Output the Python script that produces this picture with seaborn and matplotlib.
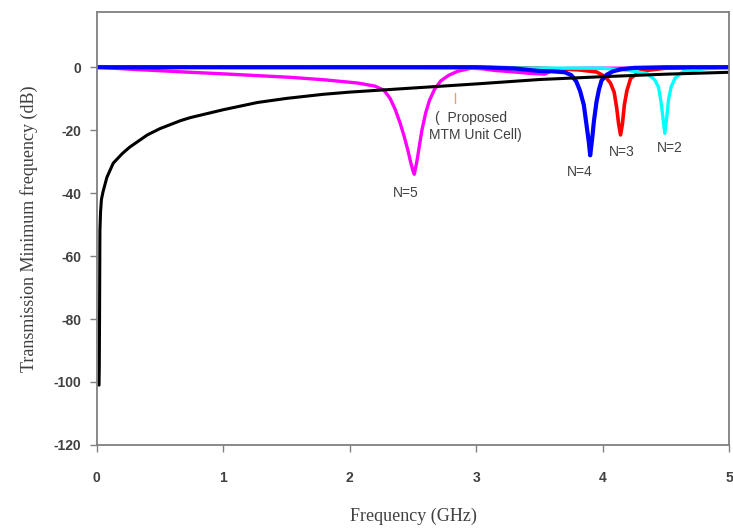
import matplotlib
matplotlib.use("Agg")
import matplotlib.pyplot as plt
import seaborn as sns

# Transmission curves (frequency in GHz, level in dB)
black_f = [0.018, 0.02, 0.022, 0.025, 0.03, 0.037, 0.05, 0.08, 0.13, 0.2, 0.26, 0.4,
           0.5, 0.66, 0.74, 1.0, 1.27, 1.5, 1.79, 2.0, 2.27, 2.5, 3.0, 3.5, 4.0, 4.5, 5.0]
black_db = [-101, -95, -80, -52, -46, -42, -39.5, -35, -30.5, -27.5, -25.4, -21.5,
            -19.5, -17, -16, -13.5, -11.2, -9.9, -8.6, -7.9, -7.2, -6.6, -5.3, -3.9, -3.0, -2.2, -1.6]

mag_f = [0, 0.3, 0.74, 1.0, 1.53, 1.8, 2.06, 2.2, 2.27, 2.32, 2.36, 2.40, 2.43, 2.46,
         2.48, 2.50, 2.51, 2.53, 2.55, 2.57, 2.60, 2.63, 2.67, 2.72, 2.78, 2.85, 2.96,
         3.05, 3.14, 3.3, 3.41, 3.54, 3.6, 3.7, 4.0, 4.4, 4.7, 5.0]
mag_db = [0, -0.7, -1.6, -2.1, -3.2, -4.0, -5.0, -6.0, -7.3, -10, -13.5, -18, -22, -26.5,
          -30, -33, -34, -30, -25, -20, -14.5, -10.5, -7, -4.3, -2.6, -1.3, -0.3,
          -0.5, -1.0, -1.5, -1.9, -2.2, -1.0, -0.4, -0.3, -0.3, 0, 0]

red_f = [0, 3.0, 3.5, 3.8, 3.95, 4.02, 4.06, 4.09, 4.11, 4.125, 4.14, 4.155, 4.17,
         4.19, 4.22, 4.3, 4.5, 5.0]
red_db = [0, 0, -0.3, -0.8, -1.5, -3, -5, -8, -13, -18, -21.5, -18, -12,
          -7.5, -3.5, -1.2, -0.3, 0]

cyan_f = [0, 4.0, 4.2, 4.35, 4.41, 4.44, 4.46, 4.475, 4.49, 4.505, 4.52, 4.54, 4.57,
          4.63, 4.8, 5.0]
cyan_db = [0, -0.3, -1, -2, -4, -6.3, -11, -16, -21, -16, -10, -6.3, -3.5,
           -1.5, -0.5, 0]

blue_f = [0, 1.0, 2.0, 3.0, 3.3, 3.5, 3.6, 3.7, 3.75, 3.79, 3.82, 3.85, 3.87, 3.89,
          3.9, 3.915, 3.93, 3.95, 3.97, 3.99, 4.03, 4.08, 4.15, 4.25, 4.5, 5.0]
blue_db = [0, 0, 0, 0, -0.4, -1.2, -1.3, -1.6, -2.5, -4.5, -7.5, -12, -18, -24,
           -28, -23, -17, -11, -7, -4.2, -2.4, -1.3, -0.6, -0.2, 0, 0]

dip_labels = ["N=5", "N=4", "N=3", "N=2"]
dip_label_f = [2.44, 3.82, 4.15, 4.53]
dip_label_db = [-40, -33.3, -27, -25.7]

sns.set_style("white")
plt.rcParams["font.family"] = ["Liberation Sans", "DejaVu Sans"]
plt.rcParams["axes.unicode_minus"] = False

fig = plt.figure(figsize=(7.33, 5.29), dpi=100)
ax = fig.add_axes([0.132, 0.159, 0.863, 0.818])

sns.lineplot(x=mag_f, y=mag_db, color="#ff00ff", linewidth=2.4, sort=False, ax=ax)
sns.lineplot(x=red_f, y=red_db, color="#ff0000", linewidth=2.6, sort=False, ax=ax)
sns.lineplot(x=cyan_f, y=cyan_db, color="#00ffff", linewidth=2.4, sort=False, ax=ax)
sns.lineplot(x=blue_f, y=blue_db, color="#0000ff", linewidth=3.0, sort=False, ax=ax)
sns.lineplot(x=black_f, y=black_db, color="#000000", linewidth=2.2, sort=False, ax=ax)

ax.set_xlim(0, 5)
ax.set_ylim(-120, 17.5)
ax.set_xticks([0, 1, 2, 3, 4, 5])
ax.set_yticks([-120, -100, -80, -60, -40, -20, 0])

txt = "#404040"
for lbl, f, db in zip(dip_labels, dip_label_f, dip_label_db):
    ax.text(f, db, lbl, color=txt, fontsize=10, ha="center", va="center")

ax.text(2.67, -16.2, "(  Proposed", color=txt, fontsize=10, ha="left", va="center")
ax.text(2.63, -21.6, "MTM Unit Cell)", color=txt, fontsize=10, ha="left", va="center")
ax.plot([2.83, 2.83], [-8.3, -11.4], color="#d9a66a", linewidth=1)

for s in ax.spines.values():
    s.set_color("#808080")
    s.set_linewidth(1.3)

ax.tick_params(axis="both", which="both", direction="out", length=5, width=1,
               color="#808080", labelcolor=txt, labelsize=10, left=True, bottom=True)
ax.tick_params(axis="x", pad=14)
ax.tick_params(axis="y", pad=6)
for lab in ax.get_xticklabels() + ax.get_yticklabels():
    lab.set_fontweight("bold")

ax.set_xlabel("Frequency (GHz)", fontsize=13, color=txt, family="Liberation Serif", labelpad=16)
ax.set_ylabel("Transmission Minimum frequency (dB)", fontsize=13, color=txt,
              family="Liberation Serif", labelpad=11)

fig.savefig("out.png", dpi=100)
